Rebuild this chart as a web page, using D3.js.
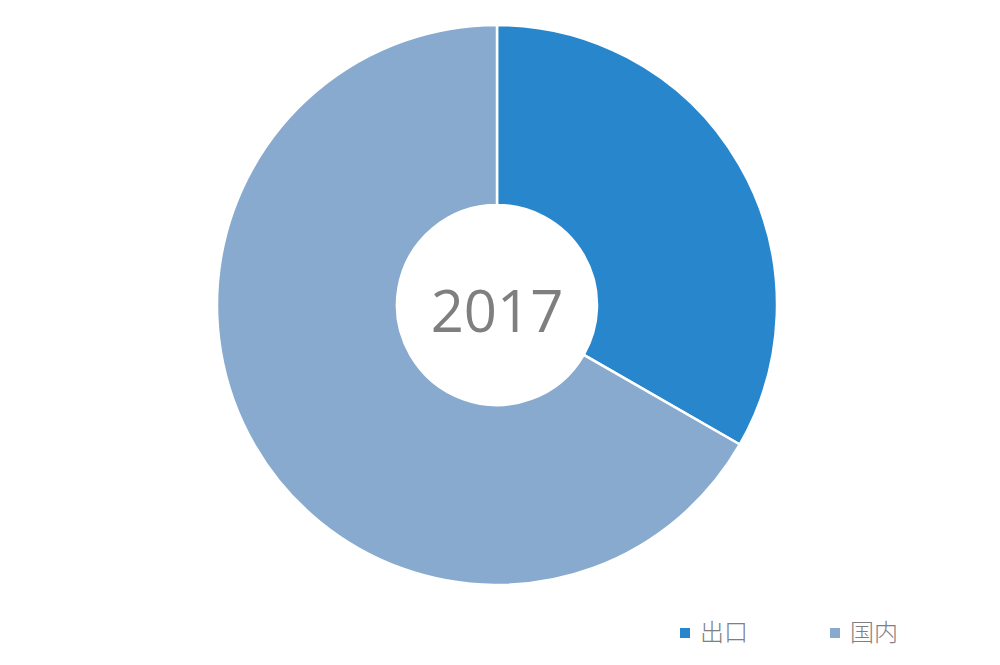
<!DOCTYPE html>
<html><head><meta charset="utf-8">
<script src="https://cdn.jsdelivr.net/npm/d3@7"></script>
<style>body{margin:0;background:#fff;}</style>
</head><body>
<svg id="c" width="1000" height="665"></svg>
<script>
const categories = ["出口", "国内"];
const values = [33.3, 66.7];
const colors = ["#2887CC", "#87AACE"];
const centerLabel = "2017";

const svg = d3.select("#c");
const cx = 497, cy = 305, outerR = 280, innerR = 100;
const g = svg.append("g").attr("transform", `translate(${cx},${cy})`);
const pie = d3.pie().sort(null).value(d => d.v);
const arc = d3.arc().innerRadius(innerR).outerRadius(outerR);
const data = categories.map((c, i) => ({c, v: values[i], col: colors[i]}));
g.selectAll("path").data(pie(data)).enter().append("path")
  .attr("d", arc).attr("fill", d => d.data.col)
  .attr("stroke", "#fff").attr("stroke-width", 2.5);
g.append("text").attr("text-anchor", "middle").attr("y", 27)
  .attr("font-family", "'Open Sans', 'Noto Sans', sans-serif")
  .attr("font-size", 58).attr("fill", "#7f7f7f").text(centerLabel);

const legendX = [680, 830];
const leg = svg.selectAll("g.leg").data(data).enter().append("g")
  .attr("transform", (d, i) => `translate(${legendX[i]},628)`);
leg.append("rect").attr("width", 10).attr("height", 10).attr("fill", d => d.col);
leg.append("text").attr("x", 20).attr("y", 13)
  .attr("font-family", "'Noto Sans CJK SC', sans-serif").attr("font-weight", 300)
  .attr("font-size", 24).attr("fill", "#7f7f7f").text(d => d.c);
</script>
</body></html>
